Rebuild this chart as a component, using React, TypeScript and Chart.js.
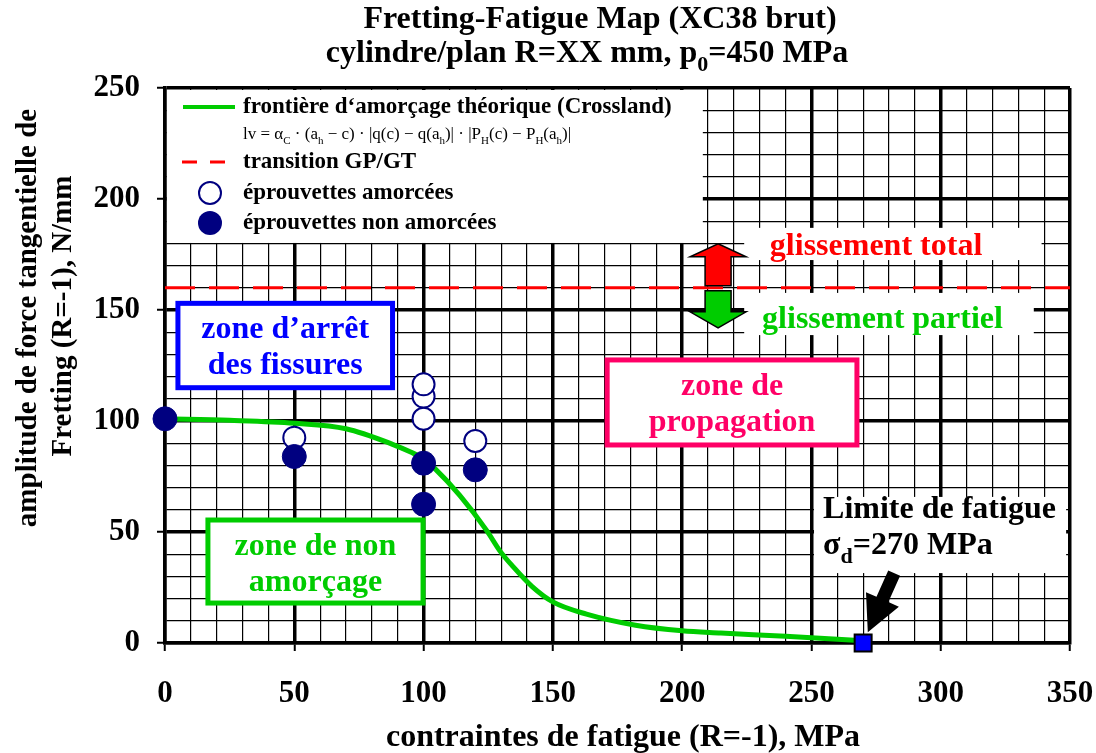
import React, { useEffect, useRef } from 'react';
import { Chart, registerables } from 'chart.js';
Chart.register(...registerables);

// ---------- data ----------
const xTickLabels = [0, 50, 100, 150, 200, 250, 300, 350];
const yTickLabels = [0, 50, 100, 150, 200, 250];

const curveX = [0, 25, 50, 70, 88, 95, 100, 104, 114, 124.5, 129.5, 134.6, 142, 150, 163, 182, 200, 215, 240, 270];
const curveY = [101, 100.3, 99, 96.5, 89.5, 86, 83, 79, 66.5, 50.5, 41.5, 34.4, 25.4, 18.5, 13, 8, 5.5, 4.5, 3, 1];

const transitionY = 160;

const initiatedX = [50, 100, 100, 100, 120];
const initiatedY = [92.5, 101, 111, 116.5, 91];

const notInitiatedX = [0, 50, 100, 100, 120];
const notInitiatedY = [101, 84, 81, 62.5, 78];

const fatigueLimitX = [270];
const fatigueLimitY = [0];

const titleLine1 = 'Fretting-Fatigue Map (XC38 brut)';
const xTitle = 'contraintes de fatigue (R=-1), MPa';
const yTitle1 = 'amplitude de force tangentielle de';
const yTitle2 = 'Fretting (R=-1), N/mm';

const FAM = '"Liberation Serif", "Times New Roman", serif';
const bold = (s: number) => `bold ${s}px ${FAM}`;
const GREEN = '#00cc00';
const NAVY = '#000080';

function drawRich(ctx: CanvasRenderingContext2D, x: number, y: number, parts: [string, boolean][], size: number, subSize: number, weight: string) {
  let cx = x;
  for (const [t, sub] of parts) {
    ctx.font = `${weight} ${sub ? subSize : size}px ${FAM}`;
    ctx.fillText(t, cx, sub ? y + size * 0.28 : y);
    cx += ctx.measureText(t).width;
  }
  return cx - x;
}
function richWidth(ctx: CanvasRenderingContext2D, parts: [string, boolean][], size: number, subSize: number, weight: string) {
  let w = 0;
  for (const [t, sub] of parts) {
    ctx.font = `${weight} ${sub ? subSize : size}px ${FAM}`;
    w += ctx.measureText(t).width;
  }
  return w;
}

const annotations = {
  id: 'annotations',
  beforeDatasetsDraw(chart: any) {
    const { ctx, scales: { x, y } } = chart;
    const X = (v: number) => x.getPixelForValue(v);
    const Y = (v: number) => y.getPixelForValue(v);
    ctx.save();
    // legend background
    ctx.fillStyle = '#fff';
    ctx.fillRect(X(0) + 2, Y(250) + 2, X(208) - X(0) - 2, Y(180.2) - Y(250) - 2);
    // glissement backgrounds
    ctx.fillRect(X(224), Y(187), X(339) - X(224), Y(172.5) - Y(187));
    ctx.fillRect(X(224), Y(157.7), X(336) - X(224), Y(138.7) - Y(157.7));
    // fatigue limit background
    ctx.fillRect(X(251), Y(65.8), X(348.5) - X(251), Y(31.5) - Y(65.8));

    // zone boxes
    const box = (x0: number, y0: number, x1: number, y1: number, color: string, lines: string[]) => {
      const l = X(x0), t = Y(y0), r = X(x1), b = Y(y1);
      ctx.fillStyle = '#fff';
      ctx.fillRect(l, t, r - l, b - t);
      ctx.strokeStyle = color;
      ctx.lineWidth = 5;
      ctx.strokeRect(l, t, r - l, b - t);
      ctx.fillStyle = color;
      ctx.font = bold(32);
      ctx.textAlign = 'center';
      ctx.textBaseline = 'alphabetic';
      lines.forEach((s, i) => ctx.fillText(s, (l + r) / 2, t + 35 + i * 36));
    };
    box(5, 153, 88, 115, '#0000ff', ['zone d\u2019arrêt', 'des fissures']);
    box(171, 127.5, 267.6, 89.2, '#ff0066', ['zone de', 'propagation']);
    box(16.6, 55.4, 99.8, 18, GREEN, ['zone de non', 'amorçage']);

    // glissement texts
    ctx.textAlign = 'center';
    ctx.textBaseline = 'middle';
    ctx.font = bold(32);
    ctx.fillStyle = '#ff0000';
    ctx.fillText('glissement total', X(275), Y(178.5));
    ctx.fillStyle = GREEN;
    ctx.fillText('glissement partiel', X(277.5), Y(145.5));

    // fatigue limit text
    ctx.fillStyle = '#000';
    ctx.textAlign = 'left';
    ctx.textBaseline = 'alphabetic';
    ctx.font = bold(32);
    const lx = X(254.5);
    ctx.fillText('Limite de fatigue', lx, Y(56.5));
    drawRich(ctx, lx, Y(40), [['σ', false], ['d', true], ['=270 MPa', false]], 32, 22, 'bold');

    // legend contents
    const L = X(0), T = Y(250);
    ctx.textBaseline = 'middle';
    ctx.textAlign = 'left';
    ctx.strokeStyle = GREEN;
    ctx.lineWidth = 4;
    ctx.beginPath(); ctx.moveTo(L + 18, T + 19); ctx.lineTo(L + 70, T + 19); ctx.stroke();
    ctx.strokeStyle = '#ff0000';
    ctx.lineWidth = 3;
    ctx.beginPath(); ctx.moveTo(L + 17, T + 74); ctx.lineTo(L + 32, T + 74); ctx.moveTo(L + 45, T + 74); ctx.lineTo(L + 60, T + 74); ctx.stroke();
    ctx.fillStyle = '#fff';
    ctx.strokeStyle = NAVY;
    ctx.lineWidth = 2;
    ctx.beginPath(); ctx.arc(L + 45, T + 105, 11, 0, Math.PI * 2); ctx.fill(); ctx.stroke();
    ctx.fillStyle = NAVY;
    ctx.beginPath(); ctx.arc(L + 45, T + 135, 12, 0, Math.PI * 2); ctx.fill();
    ctx.fillStyle = '#000';
    ctx.font = bold(23);
    ctx.fillText('frontière d\u2018amorçage théorique (Crossland)', L + 78, T + 19);
    ctx.fillText('transition GP/GT', L + 78, T + 74);
    ctx.fillText('éprouvettes amorcées', L + 78, T + 105);
    ctx.fillText('éprouvettes non amorcées', L + 78, T + 135);
    ctx.textBaseline = 'alphabetic';
    drawRich(ctx, L + 78, T + 51, [
      ['lv = α', false], ['C', true], [' · (a', false], ['h', true], [' − c) · |q(c) − q(a', false], ['h', true],
      [')| · |P', false], ['H', true], ['(c) − P', false], ['H', true], ['(a', false], ['h', true], [')|', false],
    ], 17, 11, 'normal');
    ctx.restore();
  },
  afterDatasetsDraw(chart: any) {
    const { ctx, scales: { x, y } } = chart;
    const X = (v: number) => x.getPixelForValue(v);
    const Y = (v: number) => y.getPixelForValue(v);
    ctx.save();
    // up / down block arrows
    const cx = X(213.9), m = Y(transitionY);
    const poly = (pts: number[][], fill: string) => {
      ctx.beginPath();
      pts.forEach((p, i) => (i ? ctx.lineTo(p[0], p[1]) : ctx.moveTo(p[0], p[1])));
      ctx.closePath();
      ctx.fillStyle = fill; ctx.fill();
      ctx.strokeStyle = '#000'; ctx.lineWidth = 1.5; ctx.stroke();
    };
    poly([[cx, m - 44], [cx + 28, m - 31], [cx + 13, m - 31], [cx + 13, m - 2], [cx - 13, m - 2], [cx - 13, m - 31], [cx - 28, m - 31]], '#ff0000');
    poly([[cx - 13, m + 3], [cx + 13, m + 3], [cx + 13, m + 24], [cx + 28, m + 24], [cx, m + 40], [cx - 28, m + 24], [cx - 13, m + 24]], GREEN);

    // black arrow to fatigue limit
    const tx = X(282), ty = Y(31.5), hx = X(271.8), hy = Y(4.8);
    const dx = hx - tx, dy = hy - ty, len = Math.hypot(dx, dy);
    const ux = dx / len, uy = dy / len, nx = -uy, ny = ux;
    const bx = hx - ux * 36, by = hy - uy * 36;
    ctx.beginPath();
    ctx.moveTo(tx + nx * 6.5, ty + ny * 6.5);
    ctx.lineTo(bx + nx * 6.5, by + ny * 6.5);
    ctx.lineTo(bx + nx * 18, by + ny * 18);
    ctx.lineTo(hx, hy);
    ctx.lineTo(bx - nx * 18, by - ny * 18);
    ctx.lineTo(bx - nx * 6.5, by - ny * 6.5);
    ctx.lineTo(tx - nx * 6.5, ty - ny * 6.5);
    ctx.closePath();
    ctx.fillStyle = '#000';
    ctx.fill();
    ctx.restore();
  },
  afterDraw(chart: any) {
    const { ctx, chartArea } = chart;
    ctx.save();
    ctx.fillStyle = '#000';
    ctx.textBaseline = 'alphabetic';
    ctx.textAlign = 'center';
    ctx.font = bold(32);
    ctx.fillText(titleLine1, chartArea.left + 435, 28);
    const parts: [string, boolean][] = [['cylindre/plan R=XX mm, p', false], ['0', true], ['=450 MPa', false]];
    ctx.textAlign = 'left';
    const w = richWidth(ctx, parts, 32, 22, 'bold');
    drawRich(ctx, chartArea.left + 422 - w / 2, 62, parts, 32, 22, 'bold');
    // x title
    ctx.textAlign = 'center';
    ctx.font = bold(32);
    ctx.fillText(xTitle, chartArea.left + 458, 746);
    // y title
    ctx.save();
    ctx.translate(29, 318);
    ctx.rotate(-Math.PI / 2);
    ctx.textBaseline = 'middle';
    ctx.font = bold(29);
    ctx.fillText(yTitle1, 0, 0);
    ctx.restore();
    ctx.save();
    ctx.translate(64, 316);
    ctx.rotate(-Math.PI / 2);
    ctx.textBaseline = 'middle';
    ctx.font = bold(29);
    ctx.fillText(yTitle2, 0, 0);
    ctx.restore();
    ctx.restore();
  },
};

export default function App() {
  const ref = useRef<HTMLCanvasElement>(null);
  useEffect(() => {
    const isMajor = (v: number) => Math.abs(v % 50) < 1e-6;
    const gridOpts = {
      color: (c: any) => (isMajor(c.tick.value) ? '#000' : '#000'),
      lineWidth: (c: any) => (isMajor(c.tick.value) ? 3.5 : 1.2),
      tickLength: 8,
      tickColor: (c: any) => (isMajor(c.tick.value) ? '#000' : 'rgba(0,0,0,0)'),
      tickWidth: 2,
    };
    const tickFont = { family: FAM, size: 31, weight: 'bold' as const };
    const zeroPad = (s: any) => { s.paddingLeft = 0; s.paddingRight = 0; s.paddingTop = 0; s.paddingBottom = 0; };
    const chart = new Chart(ref.current!, {
      type: 'scatter',
      data: {
        datasets: [
          {
            label: 'Limite de fatigue',
            data: fatigueLimitX.map((v, i) => ({ x: v, y: fatigueLimitY[i] })),
            pointStyle: 'rect',
            pointRadius: 12,
            backgroundColor: '#0000ff',
            borderColor: '#000',
            borderWidth: 2,
            clip: false,
          },
          {
            label: 'éprouvettes non amorcées',
            data: notInitiatedX.map((v, i) => ({ x: v, y: notInitiatedY[i] })),
            pointRadius: 12,
            backgroundColor: NAVY,
            borderColor: NAVY,
            borderWidth: 1,
            clip: false,
          },
          {
            label: 'éprouvettes amorcées',
            data: initiatedX.map((v, i) => ({ x: v, y: initiatedY[i] })),
            pointRadius: 11,
            backgroundColor: '#fff',
            borderColor: NAVY,
            borderWidth: 2,
            clip: false,
          },
          {
            label: 'frontière d‘amorçage théorique (Crossland)',
            data: curveX.map((v, i) => ({ x: v, y: curveY[i] })),
            showLine: true,
            pointRadius: 0,
            borderColor: GREEN,
            borderWidth: 5,
            cubicInterpolationMode: 'monotone',
          },
          {
            label: 'transition GP/GT',
            data: [{ x: 0, y: transitionY }, { x: 350, y: transitionY }],
            showLine: true,
            pointRadius: 0,
            borderColor: '#ff0000',
            borderWidth: 3,
            borderDash: [30, 14],
          },
        ],
      } as any,
      options: {
        responsive: false,
        animation: false,
        layout: { padding: { left: 0, right: 26, top: 88, bottom: 0 } },
        plugins: { legend: { display: false }, tooltip: { enabled: false }, title: { display: false } },
        scales: {
          x: {
            type: 'linear',
            min: 0,
            max: 350,
            afterFit: (s: any) => { s.height = 110; zeroPad(s); },
            ticks: {
              stepSize: 10,
              autoSkip: false,
              maxRotation: 0,
              padding: 24,
              color: '#000',
              font: tickFont,
              callback: (v: any) => (xTickLabels.includes(v) ? String(v) : ''),
            },
            grid: gridOpts,
            border: { color: '#000', width: 3.5 },
          },
          y: {
            type: 'linear',
            min: 0,
            max: 250,
            afterFit: (s: any) => { s.width = 165; zeroPad(s); },
            ticks: {
              stepSize: 10,
              autoSkip: false,
              padding: 17,
              color: '#000',
              font: tickFont,
              callback: (v: any) => (yTickLabels.includes(v) ? String(v) : ''),
            },
            grid: gridOpts,
            border: { color: '#000', width: 3.5 },
          },
        },
      } as any,
      plugins: [annotations],
    });
    return () => chart.destroy();
  }, []);
  return (
    <canvas
      ref={ref}
      width={1096}
      height={753}
      style={{ position: 'absolute', left: 0, top: 0, width: 1096, height: 753 }}
    />
  );
}
